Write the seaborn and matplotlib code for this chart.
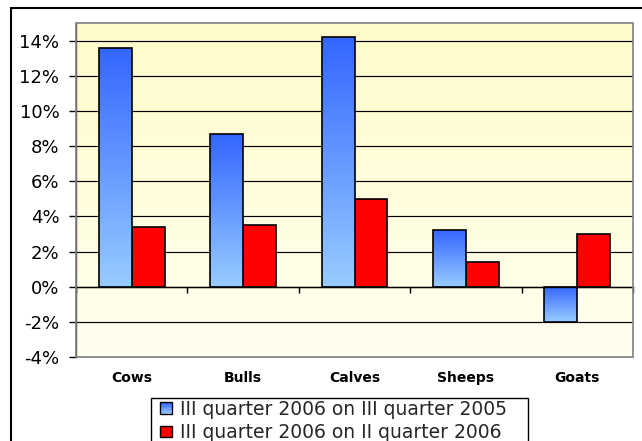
import numpy as np
import pandas as pd
import matplotlib
matplotlib.use("Agg")
import matplotlib.pyplot as plt
from matplotlib.patches import Patch, Rectangle
from matplotlib.legend_handler import HandlerBase
import matplotlib.transforms as mtransforms
import seaborn as sns

categories = ["Cows", "Bulls", "Calves", "Sheeps", "Goats"]
series_names = ["III quarter 2006 on III quarter 2005", "III quarter 2006 on II quarter 2006"]
vals_yoy = [13.6, 8.7, 14.2, 3.2, -2.0]
vals_qoq = [3.4, 3.5, 5.0, 1.4, 3.0]
yticks = [-4, -2, 0, 2, 4, 6, 8, 10, 12, 14]

BLUE_TOP = np.array([51, 102, 255]) / 255
BLUE_BOT = np.array([153, 204, 255]) / 255
RED = "#FF0000"
MIDBLUE = "#6F9CFF"

df = pd.DataFrame({
    "category": categories * 2,
    "series": [series_names[0]] * len(categories) + [series_names[1]] * len(categories),
    "value": vals_yoy + vals_qoq,
})

sns.set_theme(style="white")
plt.rcParams["font.family"] = ["DejaVu Sans"]

fig = plt.figure(figsize=(6.42, 4.41), dpi=100)
W, H = 642, 441
ax = fig.add_axes([76 / W, 1 - 357 / H, (633 - 76) / W, (357 - 23) / H])

sns.barplot(data=df, x="category", y="value", hue="series", order=categories,
            hue_order=series_names, palette=[MIDBLUE, RED], width=0.59, gap=0,
            edgecolor="black", linewidth=1.2, saturation=1, legend=False, ax=ax)

ax.set_xlim(-0.5, len(categories) - 0.5)
ax.set_ylim(-4, 15)

t = np.linspace(0, 1, 256)[:, None, None]
# background gradient (light yellow top -> almost white bottom)
top_bg = np.array([255, 251, 202]) / 255
bot_bg = np.array([255, 255, 240]) / 255
bg = top_bg * (1 - t) + bot_bg * t
ax.imshow(bg, extent=[-0.5, len(categories) - 0.5, -4, 15], aspect="auto",
          origin="upper", zorder=-1, interpolation="bilinear")

# gradient fill for blue bars
grad = BLUE_TOP * (1 - t) + BLUE_BOT * t
for p in list(ax.patches):
    fc = p.get_facecolor()
    if fc[2] > 0.9 and fc[0] < 0.6:
        x0 = p.get_x(); w = p.get_width()
        y0 = p.get_y(); h = p.get_height()
        ylo, yhi = min(y0, y0 + h), max(y0, y0 + h)
        im = ax.imshow(grad, extent=[x0, x0 + w, ylo, yhi], aspect="auto",
                       origin="upper", zorder=1.5, interpolation="bilinear")
        im.set_clip_path(p)
        p.set_facecolor("none")
        p.set_zorder(2)

ax.set_xlim(-0.5, len(categories) - 0.5)
ax.set_ylim(-4, 15)

# gridlines
ax.set_axisbelow(True)
ax.yaxis.grid(True, color="black", linewidth=0.85)
ax.xaxis.grid(False)

ax.set_yticks(yticks)
ax.set_yticklabels([f"{v}%" for v in yticks], fontsize=13, color="black")
ax.tick_params(axis="y", direction="out", length=5, width=1, color="black", pad=7, left=True)

# category axis at zero with boundary ticks
ax.spines["bottom"].set_position(("data", 0))
ax.spines["bottom"].set_color("black")
ax.spines["bottom"].set_linewidth(1)
ax.set_xticks(np.arange(len(categories) + 1) - 0.5)
ax.set_xticklabels([])
ax.tick_params(axis="x", direction="out", length=4, width=1, color="black", bottom=True)
ax.set_xlabel("")
ax.set_ylabel("")

for s in ["top", "right"]:
    ax.spines[s].set_visible(False)
ax.spines["left"].set_color("#333333")
ax.spines["left"].set_linewidth(1)

# plot area border
ax.add_patch(Rectangle((0, 0), 1, 1, transform=ax.transAxes, fill=False,
                       edgecolor="#808080", linewidth=1.2, clip_on=False, zorder=3))

# category labels below the plot area
trans = mtransforms.blended_transform_factory(ax.transData, ax.transAxes)
for i, c in enumerate(categories):
    ax.text(i, -21 / 334, c, transform=trans, ha="center", va="center",
            fontsize=10, fontweight="bold", color="black")


class GradientSquare(HandlerBase):
    def __init__(self, top, bot, **kw):
        super().__init__(**kw)
        self.top, self.bot = top, bot

    def create_artists(self, legend, orig_handle, xdescent, ydescent, width, height,
                       fontsize, trans):
        side = min(width, height)
        x0, y0 = -xdescent, -ydescent + (height - side) / 2
        arts = []
        n = 8
        for k in range(n):
            f = k / (n - 1)
            col = self.top * (1 - f) + self.bot * f
            arts.append(Rectangle((x0, y0 + side * (1 - (k + 1) / n)), side, side / n,
                                  facecolor=col, edgecolor="none", transform=trans))
        arts.append(Rectangle((x0, y0), side, side, facecolor="none",
                              edgecolor="black", linewidth=1, transform=trans))
        return arts


class SolidSquare(HandlerBase):
    def create_artists(self, legend, orig_handle, xdescent, ydescent, width, height,
                       fontsize, trans):
        side = min(width, height)
        x0, y0 = -xdescent, -ydescent + (height - side) / 2
        return [Rectangle((x0, y0), side, side, facecolor=orig_handle.get_facecolor(),
                          edgecolor="black", linewidth=1, transform=trans)]


# legend (frameless, inside a drawn box)
h_blue = Patch(facecolor=MIDBLUE, edgecolor="black")
h_red = Patch(facecolor=RED, edgecolor="black")
leg = fig.legend([h_blue, h_red], series_names, loc="upper left",
                 bbox_to_anchor=(158 / W, 1 - 398 / H), bbox_transform=fig.transFigure,
                 frameon=False, fontsize=13.5,
                 handlelength=0.62, handleheight=0.62, handletextpad=0.45,
                 borderpad=0.1, labelspacing=0.22, borderaxespad=0,
                 handler_map={h_blue: GradientSquare(BLUE_TOP, BLUE_BOT),
                              h_red: SolidSquare()})

fig.add_artist(Rectangle((151 / W, -0.1), (528 - 151) / W, 0.1 + 1 - 398 / H,
                         transform=fig.transFigure, facecolor="white",
                         edgecolor="black", linewidth=1, zorder=-2))

# outer chart frame
fig.add_artist(Rectangle((11 / W, -0.2), 2.0, 1 - 8 / H + 0.2, transform=fig.transFigure,
                         fill=False, edgecolor="black", linewidth=1.5, zorder=-5))

fig.savefig("out.png", dpi=100)
